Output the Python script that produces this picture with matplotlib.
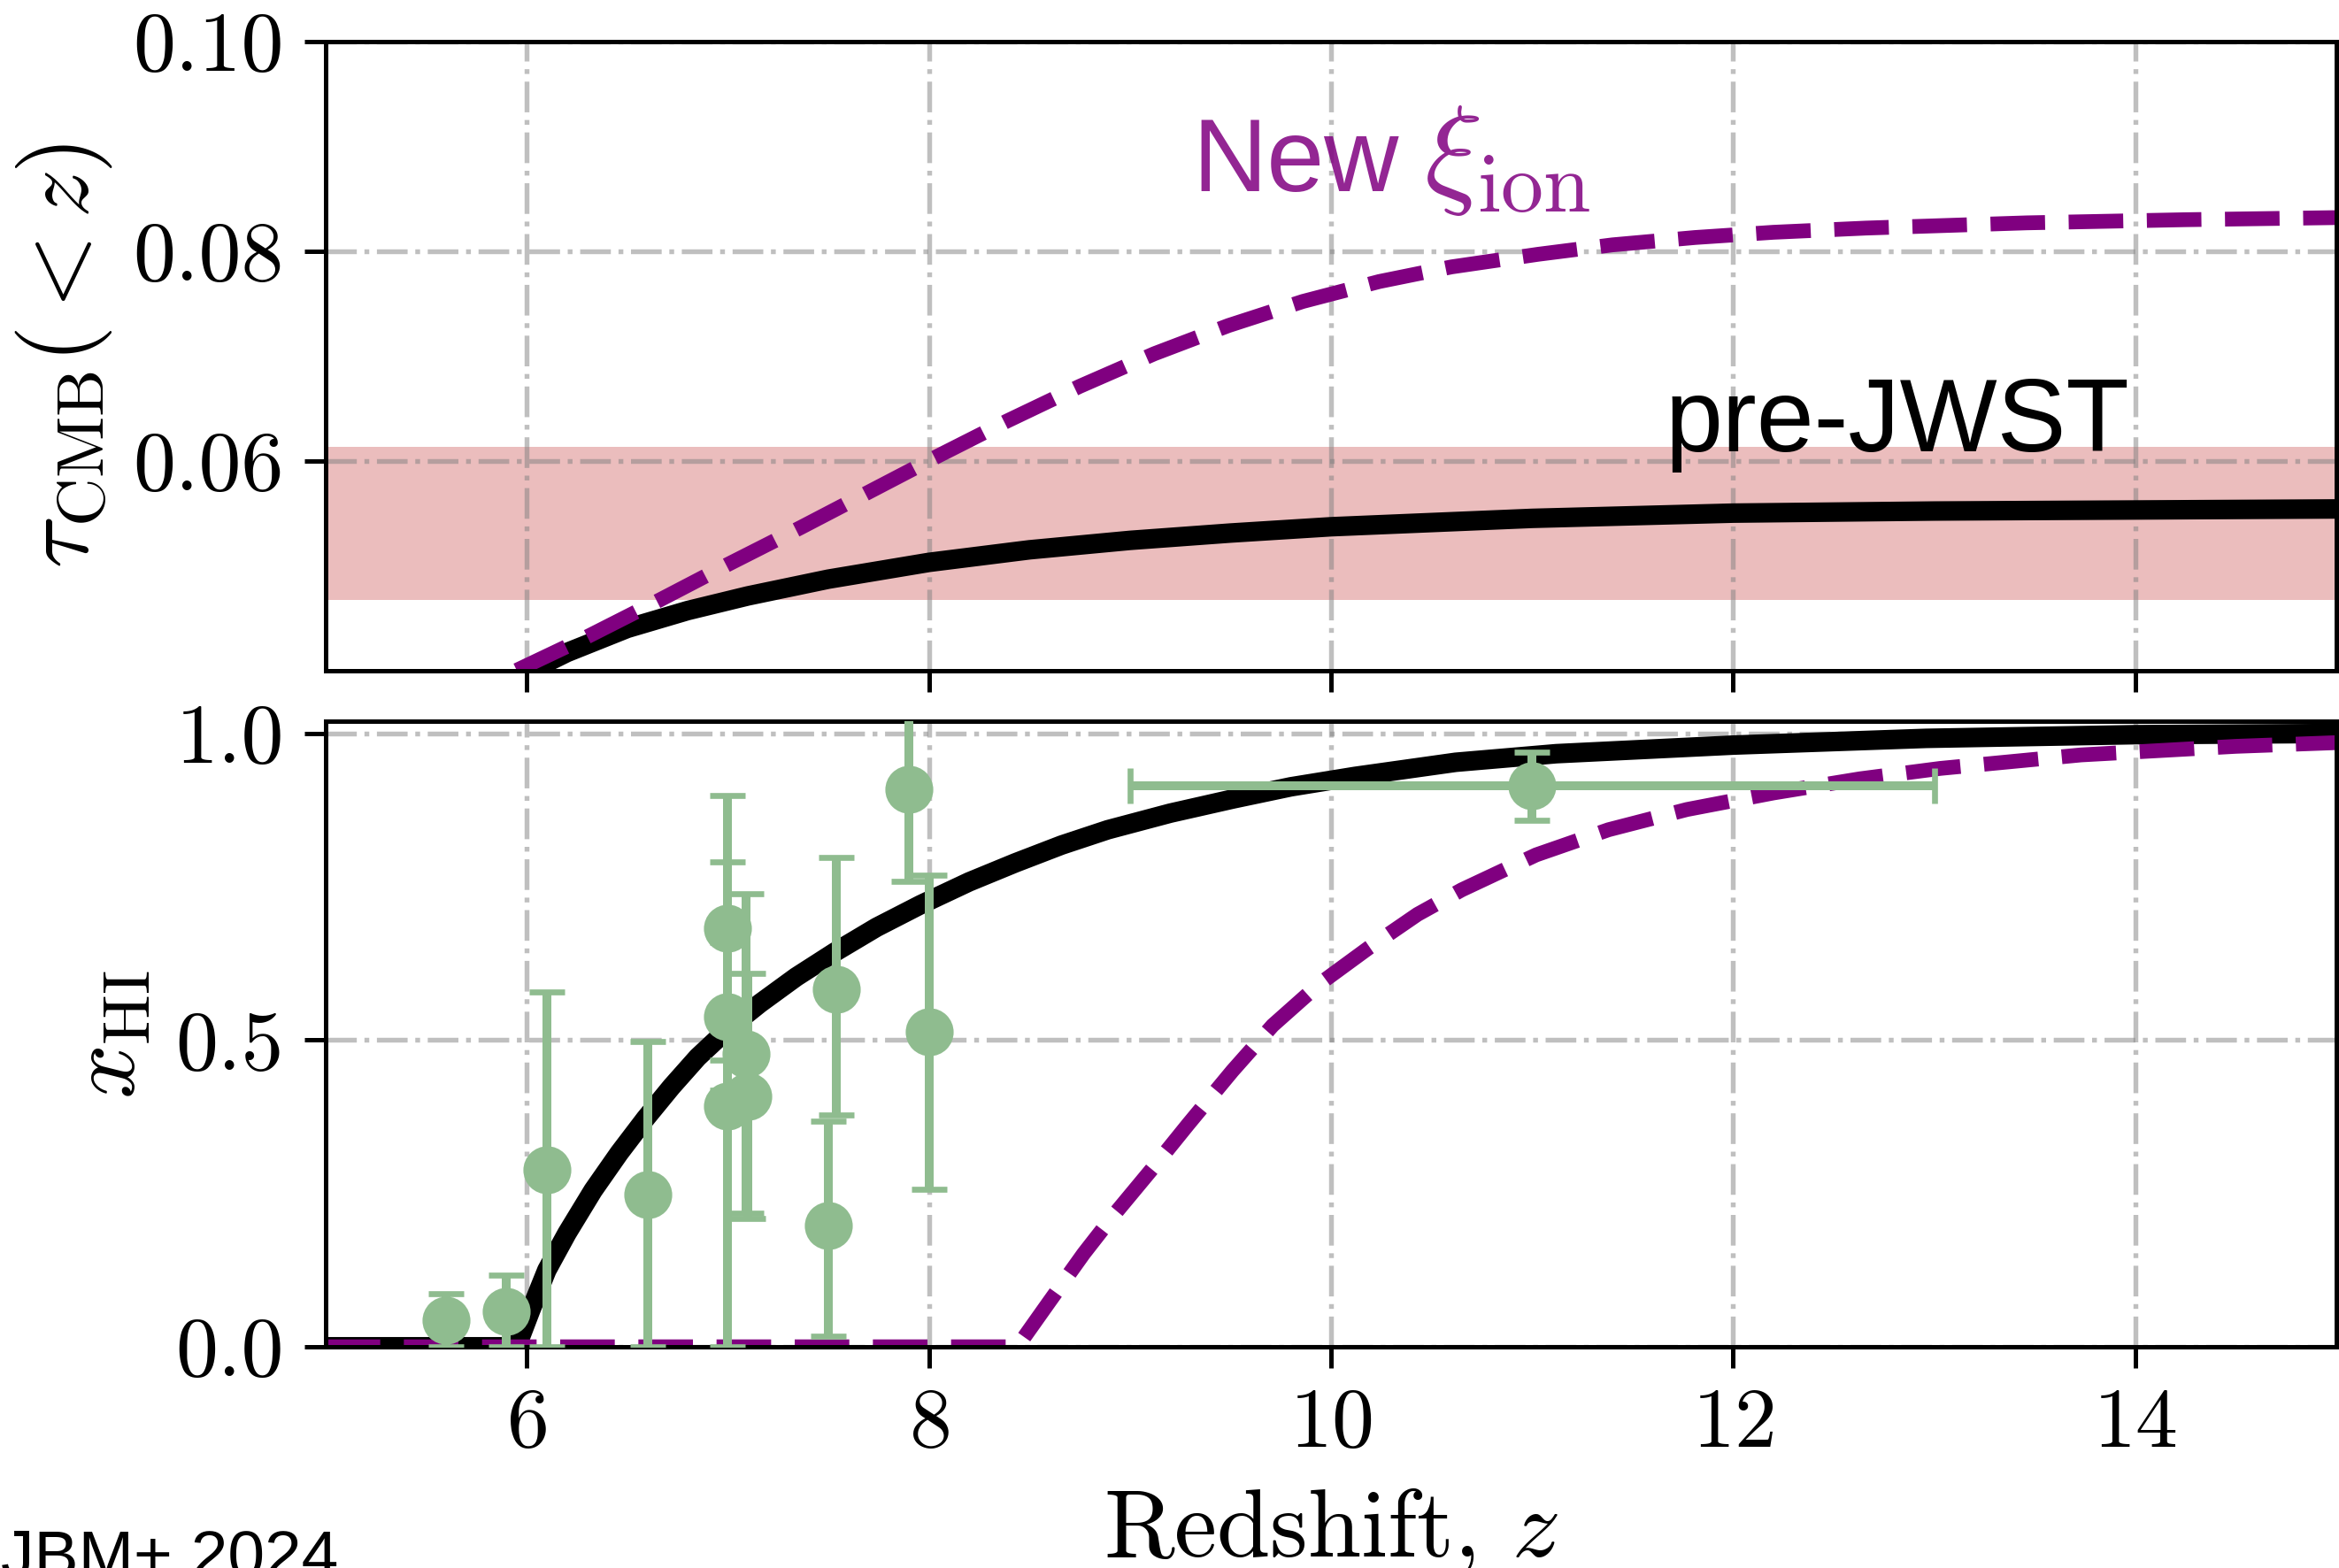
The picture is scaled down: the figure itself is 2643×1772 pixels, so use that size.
import matplotlib
matplotlib.use("Agg")  # no display available
import matplotlib.pyplot as plt
from matplotlib.ticker import FormatStrFormatter

# optical depth tau_CMB(<z)
z_tau_pre = [6.02, 6.20, 6.50, 6.80, 7.10, 7.50, 8.00, 8.50, 9.00, 9.50, 10.00, 10.50, 11.00,
             12.00, 13.00, 14.00, 15.00]
tau_pre = [0.0400, 0.0417, 0.0440, 0.0457, 0.0471, 0.0487, 0.0503, 0.0515, 0.0524, 0.0531, 0.0537,
           0.0541, 0.0545, 0.0550, 0.0552, 0.0553, 0.0554]
z_tau_new = [5.95, 6.29, 6.66, 7.00, 7.36, 7.70, 8.05, 8.39, 8.75, 9.12, 9.49, 9.86, 10.24, 10.60,
             11.03, 11.40, 11.81, 12.20, 12.66, 13.46, 14.25, 15.00]
tau_new = [0.0400, 0.0431, 0.0467, 0.0501, 0.0536, 0.0570, 0.0605, 0.0638, 0.0671, 0.0702, 0.0729,
           0.0752, 0.0771, 0.0785, 0.0797, 0.0806, 0.0813, 0.0818, 0.0822, 0.0827, 0.0830, 0.0832]

# Planck band
tau_planck = 0.054
tau_planck_err = 0.0073

# neutral fraction x_HI(z), lower panel
z_xhi_pre = [5.00, 5.95, 6.02, 6.10, 6.20, 6.33, 6.46, 6.59, 6.72, 6.85, 7.00, 7.16, 7.34, 7.53,
             7.74, 7.96, 8.20, 8.43, 8.66, 8.89, 9.20, 9.51, 9.80, 10.12, 10.62, 11.12, 12.00,
             12.96, 14.00, 15.00]
xhi_pre = [0.0, 0.0, 0.06, 0.125, 0.185, 0.255, 0.316, 0.372, 0.424, 0.472, 0.518, 0.560, 0.603,
           0.643, 0.684, 0.721, 0.758, 0.789, 0.818, 0.843, 0.870, 0.893, 0.913, 0.930, 0.953,
           0.967, 0.981, 0.992, 0.998, 1.0]
z_xhi_new = [5.00, 8.44, 8.60, 8.77, 8.92, 9.11, 9.29, 9.51, 9.71, 9.94, 10.19, 10.43, 10.65, 11.02,
             11.38, 11.77, 12.20, 12.63, 13.03, 13.73, 14.50, 15.00]
xhi_new = [0.0, 0.0, 0.074, 0.152, 0.215, 0.29, 0.363, 0.45, 0.524, 0.591, 0.651, 0.705, 0.745, 0.802,
           0.843, 0.876, 0.903, 0.926, 0.943, 0.965, 0.979, 0.985]

# observational constraints
obs_z = [5.60, 5.90, 6.10, 6.60, 7.00, 7.00, 7.00, 7.09, 7.10, 7.50, 7.54, 7.90, 8.00, 11.0]
obs_xhi = [0.043, 0.057, 0.288, 0.248, 0.683, 0.538, 0.393, 0.478, 0.408, 0.197, 0.583, 0.909, 0.513, 0.915]
obs_lo = [0.043, 0.057, 0.288, 0.248, 0.215, 0.12, 0.393, 0.26, 0.199, 0.18, 0.205, 0.15, 0.256, 0.056]
obs_hi = [0.044, 0.060, 0.290, 0.250, 0.216, 0.121, 0.397, 0.261, 0.201, 0.171, 0.215, 0.15, 0.256, 0.055]
obs_zerr = [0, 0, 0, 0, 0, 0, 0, 0, 0, 0, 0, 0, 0, 2.0]

plt.rcParams.update({
    "font.family": "serif",
    "font.serif": ["cmr10"],
    "mathtext.fontset": "cm",
    "axes.formatter.use_mathtext": True,
    "axes.linewidth": 1.2,
})

fig = plt.figure(figsize=(2643 / 300, 1772 / 300), dpi=300)
ax1 = fig.add_axes([0.13924, 0.5725, 0.85963, 0.4010])
ax2 = fig.add_axes([0.13924, 0.14108, 0.85963, 0.39898])

# top: optical depth
ax1.axhspan(tau_planck - tau_planck_err, tau_planck + tau_planck_err,
            color="indianred", alpha=0.4, lw=0, zorder=1)
ax1.plot(z_tau_pre, tau_pre, color="k", lw=5.3)
ax1.plot(z_tau_new, tau_new, color="purple", lw=4.0, ls="--")
ax1.text(9.31, 0.0857, "New", color="purple", alpha=0.85, fontsize=28,
         family="Liberation Sans", va="baseline")
ax1.text(10.46, 0.0857, r"$\xi_{\rm ion}$", color="purple", alpha=0.85, fontsize=33,
         va="baseline")
ax1.text(11.66, 0.0609, "pre-JWST", color="k", fontsize=28,
         family="Liberation Sans", va="baseline")
ax1.set_ylim(0.04, 0.10)
ax1.set_yticks([0.06, 0.08, 0.10])
ax1.yaxis.set_major_formatter(FormatStrFormatter("%.2f"))
ax1.set_ylabel(r"$\tau_{\rm CMB}(<z)$", fontsize=26)
ax1.yaxis.set_label_coords(-0.105, 0.5)

# bottom: neutral fraction
ax2.plot(z_xhi_pre, xhi_pre, color="k", lw=5.3)
ax2.plot(z_xhi_new, xhi_new, color="purple", lw=4.0, ls="--")
ax2.errorbar(obs_z, obs_xhi, yerr=[obs_lo, obs_hi], xerr=obs_zerr, fmt="o",
             color="darkseagreen", ms=12, elinewidth=2.4, capsize=4.9, capthick=1.6, zorder=3)
ax2.set_ylim(0, 1.02)
ax2.set_yticks([0.0, 0.5, 1.0])
ax2.yaxis.set_major_formatter(FormatStrFormatter("%.1f"))
ax2.set_ylabel(r"$x_{\rm HI}$", fontsize=26)
ax2.yaxis.set_label_coords(-0.0863, 0.5)
ax2.set_xlabel(r"Redshift, $z$", fontsize=26)
ax2.xaxis.set_label_coords(0.5, -0.2235)

for ax in (ax1, ax2):
    ax.set_xlim(5, 15)
    ax.set_xticks([6, 8, 10, 12, 14])
    ax.tick_params(direction="out", length=5.8, width=1.2, labelsize=23, pad=5.5,
                   top=False, right=False)
    ax.grid(True, color="gray", alpha=0.5, ls="-.", lw=1.3)
ax1.tick_params(labelbottom=False)

fig.text(382 / 2643, 1 - 1782 / 1772, "JBM+ 2024", fontsize=18,
         family="Liberation Sans", ha="right", va="baseline")

fig.savefig("out.png", dpi=300)
plt.close(fig)
